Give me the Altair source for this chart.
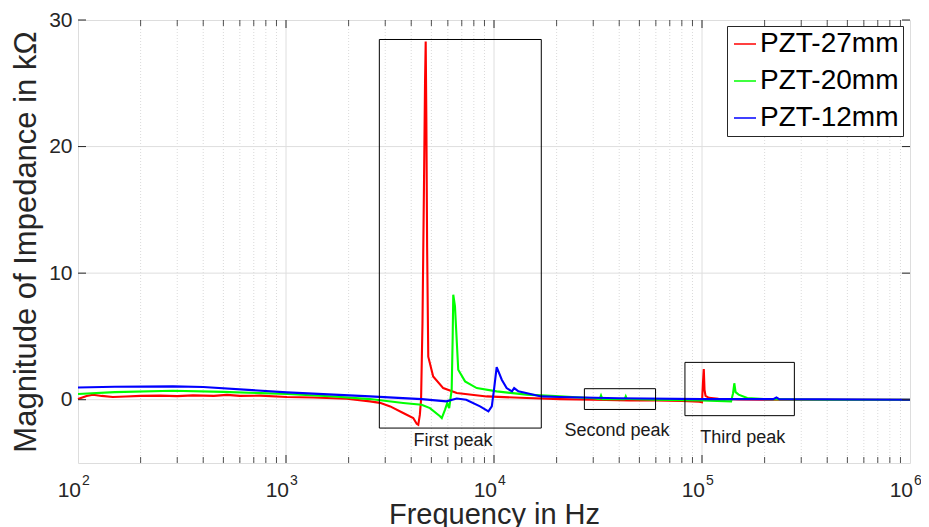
import altair as alt
import pandas as pd

# ---------------- data ----------------
series_names = ["PZT-27mm", "PZT-20mm", "PZT-12mm"]
series_colors = ["#ff0000", "#00ff00", "#0000ff"]

red_freq = [100, 110, 118, 130, 147, 170, 200, 248, 300, 357,
            450, 520, 600, 750, 1010, 1350, 1960, 2535, 2830, 3170,
            3660, 4090, 4250, 4325, 4400, 4460, 4530, 4600, 4660, 4695,
            4730, 4770, 4830, 5100, 5700, 6620, 9220, 14360, 20740, 30000,
            45000, 60000, 80000, 97000, 100000, 101200, 102000, 102800, 104000, 108000,
            120000, 150000, 250000, 500000, 1000000]
red_val = [0.05, 0.30, 0.39, 0.30, 0.21, 0.25, 0.30, 0.32, 0.28, 0.34,
           0.30, 0.38, 0.30, 0.32, 0.22, 0.18, 0.08, -0.13, -0.25, -0.53,
           -1.05, -1.45, -1.90, -1.98, -1.20, 0.00, 6.0, 16.0, 25.0, 28.3,
           22.0, 12.0, 3.4, 1.84, 0.92, 0.53, 0.26, 0.13, 0.05, 0.0,
           -0.05, -0.05, -0.10, -0.15, -0.2, 1.5, 2.42, 0.8, 0.3, 0.15,
           0.08, 0.02, 0.0, 0.0, 0.0]

green_freq = [100, 150, 286, 500, 1010, 1700, 2535, 3660, 4490, 4920,
              5500, 5610, 5810, 5960, 6090, 6260, 6330, 6370, 6490, 6730,
              7260, 8260, 10300, 14360, 20740, 30000, 32200, 32700, 33200, 40000,
              42500, 43000, 43500, 60000, 100000, 138000, 141000, 143000, 145000, 150000,
              165000, 200000, 400000, 1000000]
green_val = [0.45, 0.60, 0.71, 0.62, 0.45, 0.25, 0.05, -0.26, -0.40, -0.66,
             -1.30, -1.45, -0.80, -0.26, -0.66, 0.80, 5.0, 8.3, 7.4, 2.37,
             1.45, 0.92, 0.66, 0.40, 0.26, 0.12, 0.05, 0.34, 0.05, 0.05,
             0.05, 0.26, 0.05, 0.0, -0.05, -0.13, 0.5, 1.3, 0.6, 0.4,
             0.13, 0.05, 0.0, 0.0]

blue_freq = [100, 150, 286, 400, 1010, 2535, 4490, 5900, 6620, 7350,
             8570, 9400, 9760, 10000, 10300, 10900, 11500, 12200, 12500, 13100,
             16880, 20740, 40000, 100000, 220000, 228000, 235000, 1000000]
blue_val = [0.97, 1.02, 1.05, 1.00, 0.58, 0.26, 0.05, -0.13, 0.10, 0.0,
            -0.53, -0.92, -0.53, 0.80, 2.58, 1.58, 0.92, 0.66, 0.92, 0.66,
            0.26, 0.21, 0.12, 0.05, 0.05, 0.18, 0.05, 0.0]

box_names = ["First peak", "Second peak", "Third peak"]
box_f1 = [2810, 27200, 82800]
box_f2 = [16880, 59800, 278000]
box_top = [28.46, 0.87, 2.95]
box_bottom = [-2.24, -0.77, -1.26]
label_freq = [6350, 39000, 157000]
label_val = [-3.24, -2.45, -3.0]

decades = [100, 1000, 10000, 100000, 1000000]
decade_base = ["10", "10", "10", "10", "10"]
decade_exp = ["2", "3", "4", "5", "6"]
minor_ticks = [m * 10 ** e for e in range(2, 6) for m in range(2, 10)]
y_ticks = [0, 10, 20, 30]
y_grid = [0, 10, 20]

# ---------------- tables ----------------
lines_df = pd.concat([
    pd.DataFrame({"freq": red_freq, "val": red_val, "series": series_names[0]}),
    pd.DataFrame({"freq": green_freq, "val": green_val, "series": series_names[1]}),
    pd.DataFrame({"freq": blue_freq, "val": blue_val, "series": series_names[2]}),
], ignore_index=True)
boxes_df = pd.DataFrame({"name": box_names, "freq": box_f1, "freq2": box_f2,
                         "val": box_top, "val2": box_bottom,
                         "lf": label_freq, "lv": label_val})
dec_df = pd.DataFrame({"freq": decades, "base": decade_base, "exp": decade_exp})
minor_df = pd.DataFrame({"freq": minor_ticks})
inner_dec_df = pd.DataFrame({"freq": decades[1:-1]})
yt_df = pd.DataFrame({"val": y_ticks})
yg_df = pd.DataFrame({"val": y_grid})

W, H = 832, 443
FONT = "Liberation Sans"
AX = "#262626"

xscale = alt.Scale(type="log", domain=[100, 1000000], nice=False)
yscale = alt.Scale(domain=[-5, 30], nice=False, zero=False)
xaxis = alt.Axis(values=decades, labels=False, ticks=False, domain=False, grid=False,
                 title="Frequency in Hz", titleFont=FONT, titleFontSize=29,
                 titleFontWeight="normal", titleColor=AX, titlePadding=37)
yaxis = alt.Axis(values=y_ticks, ticks=False, domain=False, grid=False,
                 labelFont=FONT, labelFontSize=21, labelColor=AX, labelPadding=6,
                 title="Magnitude of Impedance in kΩ", titleFont=FONT, titleFontSize=31,
                 titleFontWeight="normal", titleColor=AX, titlePadding=6)


def X(field="freq"):
    return alt.X(f"{field}:Q", scale=xscale, axis=xaxis)


def Y(field="val"):
    return alt.Y(f"{field}:Q", scale=yscale, axis=yaxis)


minor_grid = alt.Chart(minor_df).mark_rule(color="#d0d0d0", strokeWidth=0.8, strokeDash=[1, 2]).encode(
    x=X(), y=alt.value(0), y2=alt.value(H))
major_grid = alt.Chart(inner_dec_df).mark_rule(color="#dedede", strokeWidth=1).encode(
    x=X(), y=alt.value(0), y2=alt.value(H))
ygrid = alt.Chart(yg_df).mark_rule(color="#dedede", strokeWidth=1).encode(
    y=Y(), x=alt.value(0), x2=alt.value(W))

lines = alt.Chart(lines_df).mark_line(strokeWidth=2.1).encode(
    x=X(), y=Y(),
    color=alt.Color("series:N", scale=alt.Scale(domain=series_names, range=series_colors),
                    legend=alt.Legend(title=None, orient="none", legendX=649, legendY=6,
                                      symbolType="stroke", symbolSize=484, symbolStrokeWidth=1.5,
                                      labelFont=FONT, labelFontSize=28, labelColor="black",
                                      labelOffset=1, rowPadding=9, padding=4,
                                      strokeColor=AX, fillColor="white", cornerRadius=0,
                                      labelLimit=400)),
)

boxes = alt.Chart(boxes_df).mark_rect(fillOpacity=0, stroke="black", strokeWidth=1).encode(
    x=X("freq"), x2="freq2:Q", y=Y("val"), y2="val2:Q")
box_labels = alt.Chart(boxes_df).mark_text(font=FONT, fontSize=18, color="#1a1a1a",
                                           baseline="middle", align="center").encode(
    x=X("lf"), y=Y("lv"), text="name:N")

bottom_minor = alt.Chart(minor_df).mark_rule(color=AX, strokeWidth=0.8).encode(
    x=X(), y=alt.value(H), y2=alt.value(H - 6))
top_minor = alt.Chart(minor_df).mark_rule(color=AX, strokeWidth=0.8).encode(
    x=X(), y=alt.value(0), y2=alt.value(6))
bottom_major = alt.Chart(inner_dec_df).mark_rule(color=AX, strokeWidth=1).encode(
    x=X(), y=alt.value(H), y2=alt.value(H - 8))
top_major = alt.Chart(inner_dec_df).mark_rule(color=AX, strokeWidth=1).encode(
    x=X(), y=alt.value(0), y2=alt.value(8))
left_ticks = alt.Chart(yt_df).mark_rule(color=AX, strokeWidth=1).encode(
    y=Y(), x=alt.value(0), x2=alt.value(8))
right_ticks = alt.Chart(yt_df).mark_rule(color=AX, strokeWidth=1).encode(
    y=Y(), x=alt.value(W - 8), x2=alt.value(W))

xlab_base = alt.Chart(dec_df).mark_text(font=FONT, fontSize=21, color=AX, align="right",
                                        baseline="alphabetic", dx=3).encode(
    x=X(), y=alt.value(H + 34), text="base:N")
xlab_exp = alt.Chart(dec_df).mark_text(font=FONT, fontSize=14, color=AX, align="left",
                                       baseline="alphabetic", dx=4).encode(
    x=X(), y=alt.value(H + 22), text="exp:N")

chart = alt.layer(
    minor_grid, major_grid, ygrid, lines, boxes, box_labels,
    bottom_minor, top_minor, bottom_major, top_major, left_ticks, right_ticks,
    xlab_base, xlab_exp,
).properties(
    width=W, height=H, autosize="none",
    padding={"left": 70, "top": 12, "right": 11, "bottom": 64},
).configure_view(
    stroke=AX, strokeWidth=1.2
).configure(background="white")

chart.save("out.html", embed_options={"renderer": "svg", "actions": False})
